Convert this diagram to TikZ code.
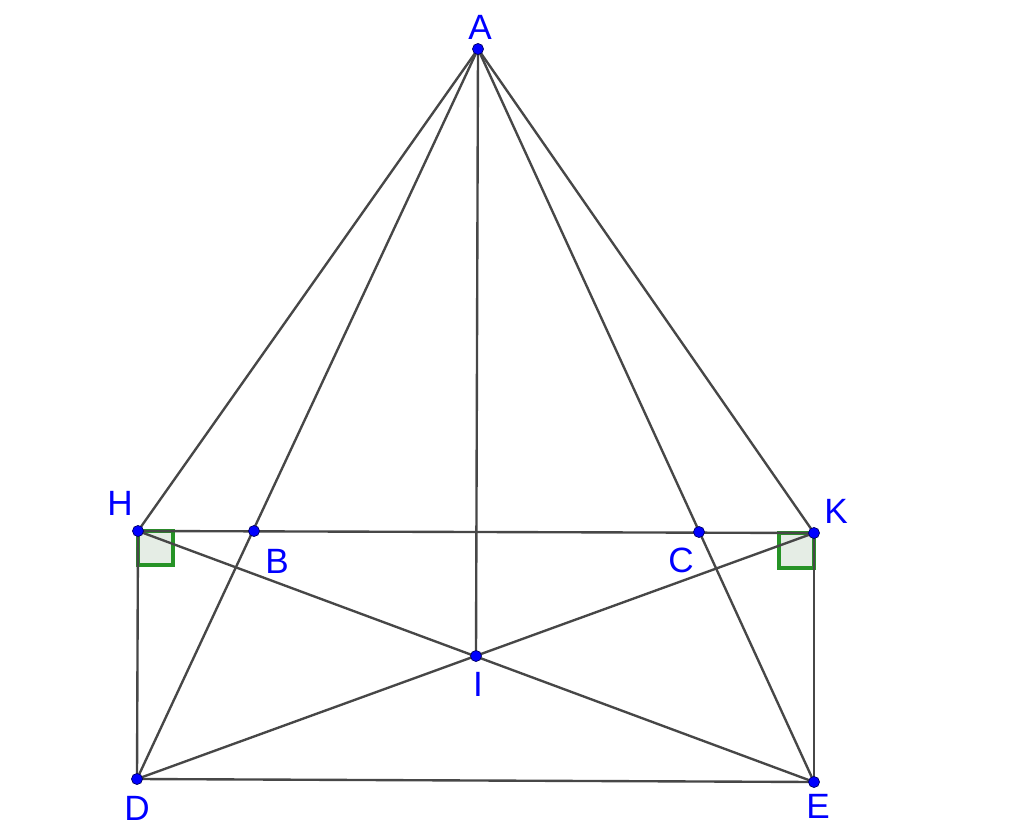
\documentclass[tikz,border=0pt]{standalone}
\usepackage{fontspec}
\setmainfont{Liberation Sans}
\begin{document}
\begin{tikzpicture}[x=0.02cm,y=-0.02cm,
  seg/.style={draw=black!72,line width=1.35pt},
  pt/.style={circle,fill=blue,draw=blue!40!black,line width=0.4pt,inner sep=0pt,minimum size=6.3pt},
  lab/.style={text=blue,font=\fontsize{20}{20}\selectfont,inner sep=0pt},
  rang/.style={draw=green!50!black!85,line width=1.8pt,fill=green!30!black!10}]
\useasboundingbox (0,0) rectangle (1024,827);
\coordinate (A) at (478,49);
\coordinate (H) at (138,531);
\coordinate (B) at (254,531);
\coordinate (C) at (699,532);
\coordinate (K) at (814,533);
\coordinate (I) at (476,656);
\coordinate (D) at (137,779);
\coordinate (E) at (814,782);
% right angle marks
\filldraw[rang] (H) rectangle (173,565);
\filldraw[rang] (779,533) rectangle (814,568);
% segments
\draw[seg] (A) -- (H);
\draw[seg] (A) -- (D);
\draw[seg] (A) -- (E);
\draw[seg] (A) -- (K);
\draw[seg] (A) -- (I);
\draw[seg] (H) -- (K);
\draw[seg] (H) -- (D);
\draw[seg] (K) -- (E);
\draw[seg] (D) -- (E);
\draw[seg] (H) -- (E);
\draw[seg] (K) -- (D);
% points
\foreach \p in {A,H,B,C,K,I,D,E} \node[pt] (p\p) at (\p) {};
% labels
\node[lab] (lA) at (480,27) {A};
\node[lab] (lH) at (120,503) {H};
\node[lab] (lB) at (277,561) {B};
\node[lab] (lC) at (681,560) {C};
\node[lab] (lK) at (836,511) {K};
\node[lab] (lI) at (478,684) {I};
\node[lab] (lD) at (137,808) {D};
\node[lab] (lE) at (818,806) {E};
\end{tikzpicture}
\end{document}
